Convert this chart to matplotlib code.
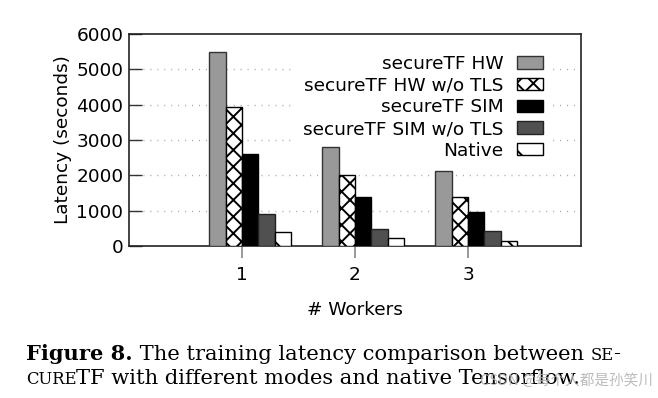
import numpy as np
import matplotlib
matplotlib.use("Agg")
import matplotlib.pyplot as plt

plt.rcParams['font.family'] = ['DejaVu Sans']
plt.rcParams['hatch.linewidth'] = 1.4

workers = [1, 2, 3]
series = ["secureTF HW", "secureTF HW w/o TLS", "secureTF SIM",
          "secureTF SIM w/o TLS", "Native"]
hw = [5500, 2800, 2130]
hw_notls = [3925, 2000, 1377]
sim = [2595, 1387, 953]
sim_notls = [905, 481, 425]
native = [405, 217, 150]
yticks = [0, 1000, 2000, 3000, 4000, 5000, 6000]

values = [hw, hw_notls, sim, sim_notls, native]
faces = ['#999999', 'white', 'black', '#505050', 'white']
edges = ['#333333', 'black', 'black', '#222222', 'black']
hatches = [None, 'xx', None, None, '\\']

fs = 13.3

fig = plt.figure(figsize=(6.58, 3.98), dpi=100)
ax = fig.add_axes([129/658, 1-246/398, 452/658, 212/398])

w = 0.144
x = np.array(workers, dtype=float)
for i, (vals, fc, ec, h, name) in enumerate(zip(values, faces, edges, hatches, series)):
    ax.bar(x + (i - 1.5) * w, vals, width=w, color=fc, edgecolor=ec,
           hatch=h, linewidth=1.0, label=name, zorder=3)

ax.set_xlim(0, 4)
ax.set_ylim(0, 6000)
ax.set_xticks(workers)
ax.set_yticks(yticks)
ax.tick_params(axis='y', direction='in', length=9, width=1.0, color='#333333',
               labelsize=fs, pad=4)
ax.tick_params(axis='x', direction='out', length=8.5, width=1.2, color='#888888',
               labelsize=fs, pad=6)
for s in ax.spines.values():
    s.set_linewidth(1.2)
    s.set_color('#222222')

for yv in yticks[1:-1]:
    ax.axhline(yv, color='#aaaaaa', lw=1.0, ls=(0, (0.8, 4.2)), zorder=1)

ax.set_ylabel("Latency (seconds)", fontsize=fs, labelpad=3)
ax.set_xlabel("# Workers", fontsize=fs, labelpad=12)

leg = ax.legend(loc='upper right', bbox_to_anchor=(0.935, 0.94), fontsize=fs,
                markerfirst=False, frameon=True, fancybox=False, edgecolor='none',
                facecolor='white', framealpha=1, labelspacing=0.2,
                handlelength=1.45, handleheight=0.65, handletextpad=0.7,
                borderpad=0.45, borderaxespad=0)
leg.set_zorder(2)
for t in leg.get_texts():
    t.set_ha('right')
leg._legend_box.align = "right"

# caption, built piece by piece for the small caps
renderer = fig.canvas.get_renderer()
cap = ['DejaVu Serif']
big = 15.1
small = 11.8

def put(xp, yp, s, size, weight='normal'):
    t = fig.text(xp, yp, s, fontsize=size, family=cap, weight=weight,
                 ha='left', va='baseline', color='black')
    bb = t.get_window_extent(renderer)
    return xp + bb.width / 658

y1 = 1 - 359.5/398
y2 = 1 - 384.5/398
xp = put(26/658, y1, "Figure 8.", big, 'bold')
xp = put(xp, y1, " The training latency comparison between ", big)
xp = put(xp, y1, "SE", small)
put(xp, y1, "-", big)
xp = put(26/658, y2, "CURE", small)
put(xp, y2, "TF with different modes and native Tensorflow.", big)

fig.text(480/658, y2, "CSDN @每个人都是孙笑川", fontsize=10.5,
         family=['Noto Sans CJK SC', 'DejaVu Sans'], color='#b0b0b0',
         ha='left', va='baseline', alpha=0.85)

fig.savefig("out.png", dpi=100)
